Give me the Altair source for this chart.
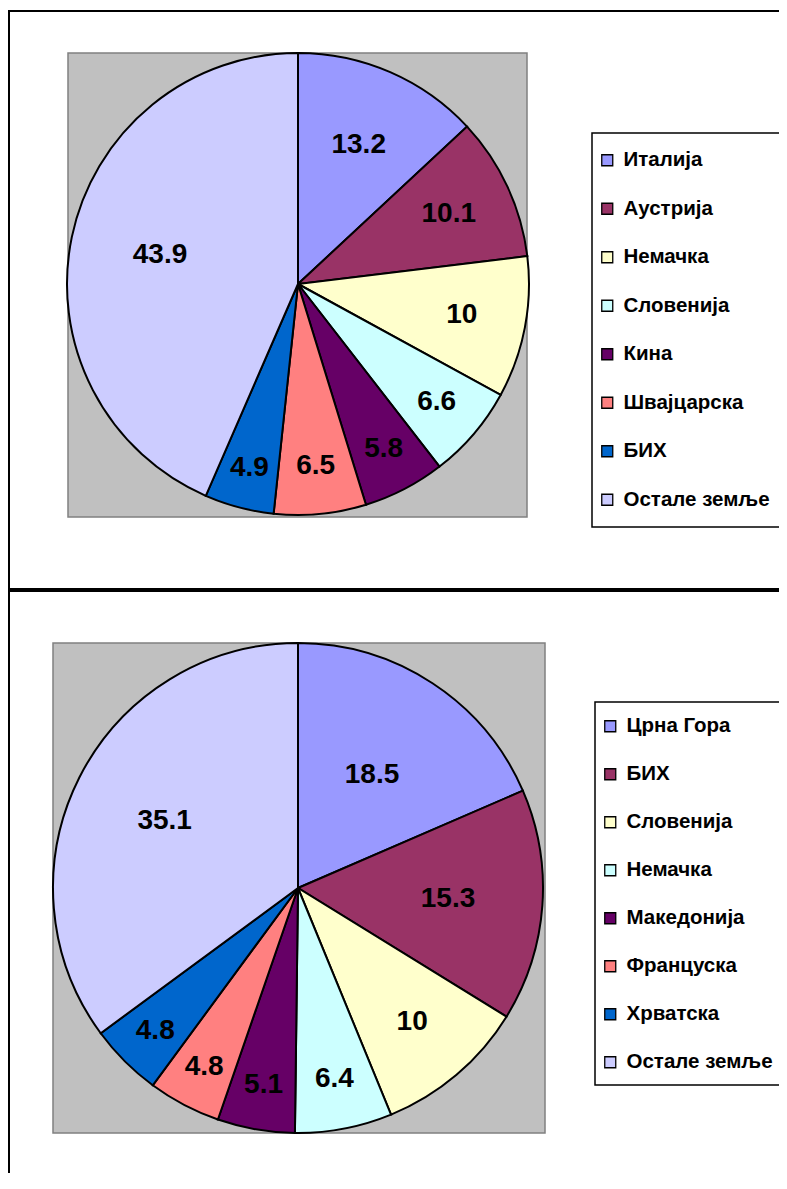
import altair as alt
import pandas as pd

# ---- data ----
top_countries = ["Италија", "Аустрија", "Немачка", "Словенија", "Кина", "Швајцарска", "БИХ", "Остале земље"]
top_values = [13.2, 10.1, 10, 6.6, 5.8, 6.5, 4.9, 43.9]

bottom_countries = ["Црна Гора", "БИХ", "Словенија", "Немачка", "Македонија", "Француска", "Хрватска", "Остале земље"]
bottom_values = [18.5, 15.3, 10, 6.4, 5.1, 4.8, 4.8, 35.1]

palette = ["#9999FF", "#993366", "#FFFFCC", "#CCFFFF", "#660066", "#FF8080", "#0066CC", "#CCCCFF"]

FONT = "Liberation Sans"
W, H = 771, 1165
one = pd.DataFrame({"a": [0]})


def box(x, x2, y, y2, fill="transparent", stroke="black", sw=2):
    return alt.Chart(one).mark_rect(fill=fill, stroke=stroke, strokeWidth=sw).encode(
        x=alt.value(x), x2=alt.value(x2), y=alt.value(y), y2=alt.value(y2)
    )


def pie(countries, values, cx, cy, R, lx, ly, row_pad):
    df = pd.DataFrame({"country": countries, "value": values, "idx": list(range(len(values)))})
    df["label"] = [f"{v:g}" for v in values]
    arcs = alt.Chart(df).mark_arc(outerRadius=R, stroke="black", strokeWidth=2).encode(
        theta=alt.Theta("value:Q", stack=True),
        order=alt.Order("idx:Q", sort="ascending"),
        x=alt.value(cx),
        y=alt.value(cy),
        color=alt.Color(
            "country:N",
            scale=alt.Scale(domain=countries, range=palette),
            legend=alt.Legend(
                title=None,
                orient="none",
                legendX=lx,
                legendY=ly,
                direction="vertical",
                symbolType="square",
                symbolSize=121,
                symbolStrokeColor="black",
                symbolStrokeWidth=1.3,
                symbolOpacity=1,
                labelFont=FONT,
                labelFontSize=20.5,
                labelFontWeight="bold",
                labelColor="black",
                labelOffset=6,
                labelLimit=300,
                rowPadding=row_pad,
                padding=0,
            ),
        ),
    )
    texts = alt.Chart(df).transform_joinaggregate(total="sum(value)").transform_window(
        cum="sum(value)", sort=[alt.SortField("idx", order="ascending")], frame=[None, 0]
    ).transform_calculate(
        frac="datum.value / datum.total",
    ).transform_calculate(
        ang="2 * PI * (datum.cum - datum.value / 2) / datum.total",
        r=f"{R} * (datum.frac > 0.3 ? 0.61 : 0.92 - 2 * datum.frac)",
    ).transform_calculate(
        px=f"{cx} + datum.r * sin(datum.ang)",
        py=f"{cy} - datum.r * cos(datum.ang)",
    ).mark_text(font=FONT, fontSize=28, fontWeight="bold", color="black").encode(
        x=alt.X("px:Q", scale=None, axis=None),
        y=alt.Y("py:Q", scale=None, axis=None),
        text="label:N",
    )
    return alt.layer(arcs, texts)


# ---- panel frames ----
frame_top = box(1, 900, 3, 581)
frame_bottom = box(1, 900, 583, 2000)

# ---- plot areas ----
gray_top = box(60, 519, 45, 509, fill="#C0C0C0", stroke="#808080", sw=1.5)
gray_bottom = box(45, 537, 635, 1125, fill="#C0C0C0", stroke="#808080", sw=1.5)

# ---- legend boxes ----
leg_box_top = box(584, 774, 125, 519, sw=1.5)
leg_box_bottom = box(587, 774, 694, 1077, sw=1.5)

pie_top = pie(top_countries, top_values, 290, 276, 231, 589, 142, 27.5)
pie_bottom = pie(bottom_countries, bottom_values, 290, 880, 245, 592, 708, 27)

chart = alt.layer(
    frame_top, frame_bottom, gray_top, gray_bottom, leg_box_top, leg_box_bottom, pie_top, pie_bottom
).resolve_scale(theta="independent", color="independent").properties(
    width=W, height=H, autosize=alt.AutoSizeParams(type="none"), padding=0, background="white"
).configure_view(stroke=None)

chart.save("out.html", embed_options={"renderer": "svg", "actions": False})
